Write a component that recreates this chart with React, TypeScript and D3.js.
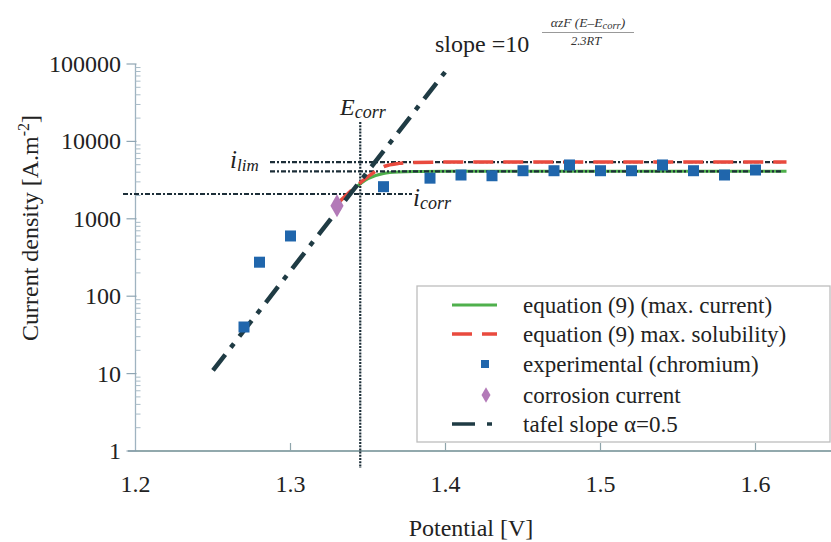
import React from 'react';
import * as d3 from 'd3';

// experimental chromium points
const expPotential = [1.27, 1.28, 1.30, 1.36, 1.39, 1.41, 1.43, 1.45, 1.47, 1.48, 1.50, 1.52, 1.54, 1.56, 1.58, 1.60];
const expCurrent = [40, 275, 600, 2600, 3350, 3680, 3600, 4180, 4180, 4960, 4180, 4180, 4960, 4180, 3680, 4270];

// equation (9), max. current
const greenPotential = [1.33, 1.34, 1.35, 1.36, 1.37, 1.38, 1.40, 1.45, 1.50, 1.55, 1.60, 1.62];
const greenCurrent = [1550, 2350, 3300, 3850, 4030, 4080, 4100, 4100, 4100, 4100, 4100, 4100];

// equation (9), max. solubility
const redPotential = [1.33, 1.34, 1.35, 1.36, 1.37, 1.38, 1.40, 1.45, 1.50, 1.55, 1.60, 1.62];
const redCurrent = [1550, 2400, 3500, 4700, 5200, 5350, 5400, 5400, 5400, 5400, 5400, 5400];

// tafel slope alpha = 0.5
const tafelPotential = [1.25, 1.40];
const tafelCurrent = [11, 80000];

// corrosion point and reference lines
const corrPotential = [1.33];
const corrCurrent = [1475];
const eCorr = 1.345;
const iCorr = 2090;
const iLimValues = [5400, 4100];

const xTicks = [1.2, 1.3, 1.4, 1.5, 1.6];
const yTicks = [1, 10, 100, 1000, 10000, 100000];

const legendLabels = [
  'equation (9) (max. current)',
  'equation (9) max. solubility)',
  'experimental (chromium)',
  'corrosion current',
  'tafel slope \u03b1=0.5',
];

const W = 831;
const H = 542;
const serif = "'Liberation Serif', 'Times New Roman', Tinos, 'DejaVu Serif', 'Noto Serif', serif";
const dotted = '#1c2e38';
const txt = { fontFamily: serif };

export default function App() {
  const x = d3.scaleLinear().domain([1.2, 1.65]).range([135.5, 833]);
  const y = d3.scaleLog().domain([1, 100000]).range([451, 64]);

  const line = d3
    .line<[number, number]>()
    .x((d) => x(d[0]))
    .y((d) => y(d[1]))
    .curve(d3.curveMonotoneX);

  const green = line(greenPotential.map((p, i) => [p, greenCurrent[i]]));
  const red = line(redPotential.map((p, i) => [p, redCurrent[i]]));
  const tafel = line(tafelPotential.map((p, i) => [p, tafelCurrent[i]]));

  const minorTicks: number[] = [];
  yTicks.slice(0, -1).forEach((d) => {
    for (let k = 2; k <= 9; k++) minorTicks.push(d * k);
  });

  const diamond = d3.symbol(d3.symbolDiamond, 150)();
  const legendDiamond = d3.symbol(d3.symbolDiamond, 70)();

  const rowY = [305, 334, 364, 395, 424];
  const lx0 = 452;
  const lx1 = 497;

  return (
    <svg width={W} height={H} style={{ position: 'absolute', left: 0, top: 0, background: '#fff' }}>
      {/* axes */}
      <line x1={x(1.2)} x2={x(1.2)} y1={y(100000)} y2={y(1)} stroke="#9fb3c0" strokeWidth={1.3} />
      <line x1={128} x2={W} y1={y(1)} y2={y(1)} stroke="#6e8d92" strokeWidth={1.4} />
      {yTicks.map((t) => (
        <g key={t}>
          <line x1={x(1.2) - 9} x2={x(1.2) + 1} y1={y(t)} y2={y(t)} stroke="#8fa5b3" strokeWidth={1.2} />
          <text x={121} y={y(t) + 8} textAnchor="end" style={txt} fontSize={24} fill="#222">
            {t}
          </text>
        </g>
      ))}
      {minorTicks.map((t) => (
        <line key={t} x1={x(1.2)} x2={x(1.2) + 5} y1={y(t)} y2={y(t)} stroke="#a9bcc8" strokeWidth={1} />
      ))}
      {xTicks.map((t) => (
        <g key={t}>
          {t > 1.2 && <line x1={x(t)} x2={x(t)} y1={y(1) - 8} y2={y(1)} stroke="#8fa5ab" strokeWidth={1.2} />}
          <text x={x(t)} y={492} textAnchor="middle" style={txt} fontSize={24} fill="#222">
            {t.toFixed(1)}
          </text>
        </g>
      ))}
      <text x={471} y={536} textAnchor="middle" style={txt} fontSize={24} fill="#222">
        Potential [V]
      </text>
      <text transform={`translate(38,228) rotate(-90)`} textAnchor="middle" style={txt} fontSize={24} fill="#222">
        Current density [A.m<tspan dy={-9} fontSize={16}>-2</tspan>
        <tspan dy={9}>]</tspan>
      </text>

      {/* curves */}
      <path d={green ?? ''} fill="none" stroke="#4fb04c" strokeWidth={3} />

      {/* reference dotted lines */}
      <line x1={x(eCorr)} x2={x(eCorr)} y1={122} y2={468} stroke={dotted} strokeWidth={2.2} strokeDasharray="2 1.2" />
      <line x1={123} x2={412} y1={y(iCorr)} y2={y(iCorr)} stroke={dotted} strokeWidth={2.2} strokeDasharray="5 2 2 2" />
      {iLimValues.map((v) => (
        <line key={v} x1={270} x2={783} y1={y(v)} y2={y(v)} stroke={dotted} strokeWidth={2.2} strokeDasharray="5 2 2 2" />
      ))}

      <path d={red ?? ''} fill="none" stroke="#e94a3e" strokeWidth={3.5} strokeDasharray="20 10" />
      <path d={tafel ?? ''} fill="none" stroke="#1f3b44" strokeWidth={4.5} strokeDasharray="20 9 5 9" />

      {expPotential.map((p, i) => (
        <rect key={i} x={x(p) - 5.5} y={y(expCurrent[i]) - 5.5} width={11} height={11} fill="#2066ac" />
      ))}
      {corrPotential.map((p, i) => (
        <path key={i} d={diamond ?? ''} transform={`translate(${x(p)},${y(corrCurrent[i])})`} fill="#b37ab8" />
      ))}

      {/* annotations */}
      <text x={340} y={115} style={txt} fontSize={24} fontStyle="italic" fill="#222">
        E<tspan dy={3} fontSize={18}>corr</tspan>
      </text>
      <text x={230} y={168} style={txt} fontSize={25} fontStyle="italic" fill="#222">
        i<tspan dy={3} fontSize={17}>lim</tspan>
      </text>
      <text x={413} y={206} style={txt} fontSize={25} fontStyle="italic" fill="#222">
        i<tspan dy={3} fontSize={18}>corr</tspan>
      </text>
      <text x={435} y={52} style={txt} fontSize={24} fill="#222">
        slope =10
      </text>
      <text x={588} y={27} textAnchor="middle" style={txt} fontSize={13.5} fontStyle="italic" fill="#333">
        {'\u03b1zF (E\u2013E'}
        <tspan dy={2} fontSize={10.5}>corr</tspan>
        <tspan dy={-2}>)</tspan>
      </text>
      <line x1={542} x2={634} y1={32.5} y2={32.5} stroke="#999" strokeWidth={1} />
      <text x={586} y={45} textAnchor="middle" style={txt} fontSize={12.5} fontStyle="italic" fill="#333">
        2.3RT
      </text>

      {/* legend */}
      <rect x={417} y={286} width={413} height={156} fill="#fff" stroke="#bdbdbd" strokeWidth={1.3} />
      <line x1={lx0} x2={lx1} y1={rowY[0]} y2={rowY[0]} stroke="#4fb04c" strokeWidth={3} />
      <line x1={lx0} x2={lx1} y1={rowY[1]} y2={rowY[1]} stroke="#e94a3e" strokeWidth={3.5} strokeDasharray="20 10" />
      <rect x={481} y={rowY[2] - 4} width={8} height={8} fill="#2066ac" />
      <path d={legendDiamond ?? ''} transform={`translate(486,${rowY[3]})`} fill="#b37ab8" />
      <line x1={lx0} x2={lx1} y1={rowY[4]} y2={rowY[4]} stroke="#1f3b44" strokeWidth={3.5} strokeDasharray="23 12 5 20" />
      {legendLabels.map((l, i) => (
        <text key={l} x={523} y={rowY[i] + 8} style={txt} fontSize={23} fill="#222">
          {l}
        </text>
      ))}
    </svg>
  );
}
